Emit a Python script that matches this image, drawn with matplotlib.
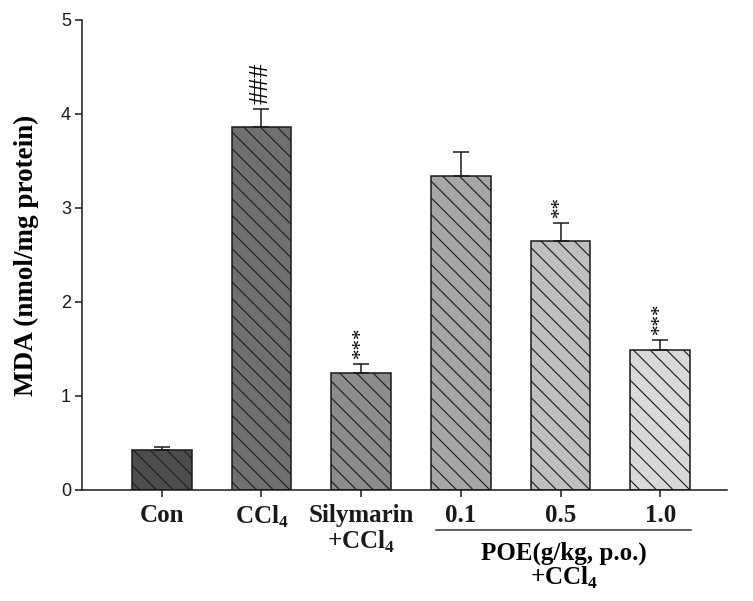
import matplotlib
matplotlib.use("Agg")
import matplotlib.pyplot as plt
from matplotlib.transforms import blended_transform_factory

plt.rcParams['font.family'] = ['Liberation Serif', 'DejaVu Serif']
plt.rcParams['mathtext.fontset'] = 'custom'
plt.rcParams['mathtext.rm'] = 'Liberation Serif'
plt.rcParams['mathtext.bf'] = 'Liberation Serif:bold'
plt.rcParams['hatch.linewidth'] = 0.8

categories = ["Con", "CCl$_\\mathbf{4}$", "Silymarin\n+CCl$_\\mathbf{4}$", "0.1", "0.5", "1.0"]
values = [0.43, 3.86, 1.25, 3.34, 2.65, 1.49]
errors = [0.03, 0.19, 0.09, 0.26, 0.19, 0.11]
marks = ["", "###", "***", "", "**", "***"]
colors = ["#4d4d4d", "#707070", "#8c8c8c", "#a6a6a6", "#bfbfbf", "#d9d9d9"]
yticks = [0, 1, 2, 3, 4, 5]
group_label = "POE(g/kg, p.o.)\n+CCl$_\\mathbf{4}$"

fig = plt.figure(figsize=(7.53, 6.01), dpi=100)
ax = fig.add_axes([82/753, (601-490)/601, 645/753, 470/601])

x = list(range(len(values)))
ax.bar(x, values, width=0.6, color=colors, edgecolor='#1a1a1a', linewidth=1.1,
       hatch='\\\\', zorder=2)
ax.errorbar(x, values, yerr=[[0]*len(errors), errors], fmt='none', ecolor='#1a1a1a',
            elinewidth=1.1, capsize=5.5, capthick=1.1, zorder=3)

for xi, v, e, m in zip(x, values, errors, marks):
    if m:
        fs = 20 if '#' in m else 15
        ax.annotate(m, (xi, v + e), xytext=(0, 4), textcoords='offset points',
                    rotation=90, ha='center', va='bottom', fontsize=fs,
                    family='Liberation Serif')

ax.set_xlim(-0.8, 5.67)
ax.set_ylim(0, 5)
ax.set_yticks(yticks)
ax.set_yticklabels([str(t) for t in yticks], family='Liberation Sans', fontsize=13)
ax.set_xticks(x)
ax.set_xticklabels(categories, fontsize=18, fontweight='bold', va='top',
                   linespacing=1.1)
ax.tick_params(axis='both', direction='out', length=5, width=1.1, colors='#1a1a1a')
ax.tick_params(axis='x', pad=5)
ax.tick_params(axis='y', pad=3)
ax.spines['top'].set_visible(False)
ax.spines['right'].set_visible(False)
for s in ('left', 'bottom'):
    ax.spines[s].set_linewidth(1.1)
    ax.spines[s].set_color('#1a1a1a')

ax.set_ylabel("MDA (nmol/mg protein)", fontsize=19.5, fontweight='bold', labelpad=16)

trans = blended_transform_factory(ax.transData, fig.transFigure)
ly = (601-530)/601
ax.plot([2.75, 5.31], [ly, ly], transform=trans, color='#333333', lw=1.1, clip_on=False)
ax.text(4.03, (601-566)/601, group_label, transform=trans, ha='center', va='center',
        fontsize=18, fontweight='bold', linespacing=1.0)

fig.savefig("out.png", dpi=100)
